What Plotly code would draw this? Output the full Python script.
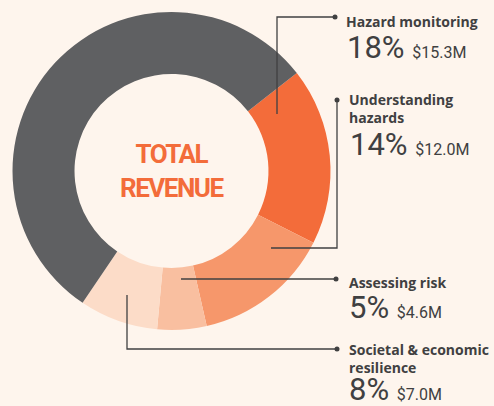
import plotly.graph_objects as go

# data
labels = ["Hazard monitoring", "Understanding hazards", "Assessing risk",
          "Societal & economic resilience", "Other"]
shares = [18, 14, 5, 8, 55]
amounts = ["$15.3M", "$12.0M", "$4.6M", "$7.0M", ""]
colors = ["#f36c3a", "#f6976b", "#f9bfa0", "#fcdcc8", "#5f6062"]
label_text = ["Hazard monitoring", "Understanding<br>hazards", "Assessing risk",
              "Societal & economic<br>resilience"]

W, H = 494, 406
bg = "#fef5ed"
ink = "#404041"

# donut geometry in pixels
cx, cy, r = 171.5, 171, 159

fig = go.Figure()
fig.add_trace(go.Pie(
    labels=labels, values=shares, hole=0.61, sort=False, direction="clockwise",
    rotation=52, marker=dict(colors=colors, line=dict(width=0)),
    textinfo="none", hoverinfo="label+percent", showlegend=False,
    domain=dict(x=[(cx - r) / W, (cx + r) / W], y=[1 - (cy + r) / H, 1 - (cy - r) / H]),
))

# callout leader lines: dot in slice, elbow, end dot
callouts = [
    [(277, 114), (277, 17), (335, 17)],
    [(271, 248), (337, 248), (337, 100)],
    [(181, 279), (336, 279), (336, 279)],
    [(127, 295), (127, 349), (337, 349)],
]
# label block centre y, percent line centre y
label_xy = [(345, 20.5), (348, 107.75), (348, 281.5), (348, 357.5)]
pct_xy = [(346, 47), (349, 144), (348, 307), (348, 389)]

shapes = []
dx, dy = [], []
for pts in callouts:
    path = "M {} {} L {} {} L {} {}".format(pts[0][0], pts[0][1], pts[1][0], pts[1][1], pts[2][0], pts[2][1])
    shapes.append(dict(type="path", path=path, xref="x", yref="y",
                       line=dict(color=ink, width=1.3)))
    dx += [pts[0][0], pts[2][0]]
    dy += [pts[0][1], pts[2][1]]

fig.add_trace(go.Scatter(x=dx, y=dy, mode="markers", hoverinfo="skip", showlegend=False,
                         marker=dict(size=5, color=ink)))

ann = []
for i in range(4):
    lx, ly = label_xy[i]
    ann.append(dict(x=lx, y=ly + 1, xref="x", yref="y", xanchor="left", yanchor="middle",
                    text=label_text[i], showarrow=False, align="left", borderpad=0,
                    font=dict(family="Open Sans", size=14, weight=700, color=ink)))
    px_, py_ = pct_xy[i]
    ann.append(dict(x=px_, y=py_, xref="x", yref="y", xanchor="left", yanchor="middle",
                    text="<span style='font-size:31px'>{}% </span><span style='font-size:16px'>{}</span>".format(shares[i], amounts[i]),
                    showarrow=False, align="left", borderpad=0,
                    font=dict(family="Roboto", size=31, color=ink)))

ann.append(dict(x=cx, y=cy, xref="x", yref="y",
                text="<span style='letter-spacing:-1.5px'><b>TOTAL<br>REVENUE</b></span>", showarrow=False,
                font=dict(family="Roboto", size=26, color="#f36c3a")))

fig.update_layout(
    width=W, height=H, margin=dict(l=0, r=0, t=0, b=0),
    paper_bgcolor=bg, plot_bgcolor=bg,
    xaxis=dict(range=[0, W], visible=False, fixedrange=True),
    yaxis=dict(range=[H, 0], visible=False, fixedrange=True),
    shapes=shapes, annotations=ann,
)

fig.write_html("out.html", config={"displayModeBar": False},
               post_script="document.body.style.margin='0';")
